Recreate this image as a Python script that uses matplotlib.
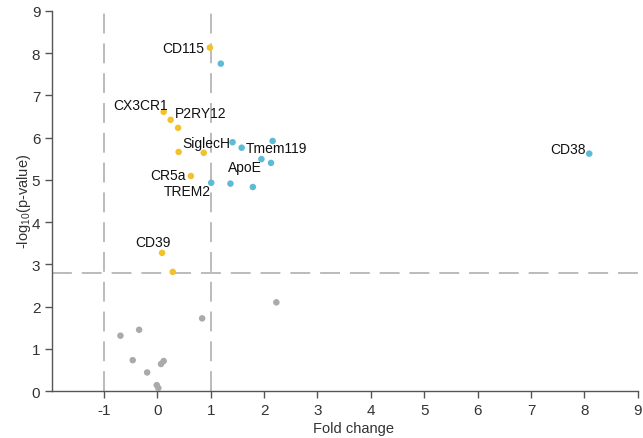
import matplotlib
matplotlib.use("Agg")
import matplotlib.pyplot as plt

plt.rcParams['font.family'] = ['Liberation Sans', 'DejaVu Sans']
plt.rcParams['mathtext.default'] = 'regular'
plt.rcParams['axes.unicode_minus'] = False

# Data
yellow_x = [0.985, 0.12, 0.25, 0.39, 0.40, 0.87, 0.63, 0.09, 0.29]
yellow_y = [8.13, 6.61, 6.42, 6.23, 5.66, 5.64, 5.09, 3.27, 2.82]
blue_x = [1.19, 1.41, 1.58, 2.16, 1.95, 2.13, 1.01, 1.37, 1.79, 8.09]
blue_y = [7.75, 5.89, 5.76, 5.92, 5.49, 5.40, 4.93, 4.91, 4.83, 5.62]
grey_x = [-0.69, -0.34, 0.84, 2.23, -0.46, 0.07, 0.12, -0.19, -0.01, 0.02]
grey_y = [1.31, 1.45, 1.72, 2.10, 0.73, 0.64, 0.71, 0.44, 0.14, 0.07]

labels = ["CD115", "CX3CR1", "P2RY12", "SiglecH", "Tmem119", "ApoE",
          "CR5a", "TREM2", "CD39", "CD38"]
label_x = [0.876, -0.31, 0.33, 0.475, 1.66, 1.33, 0.54, 1.0, -0.08, 8.02]
label_y = [8.13, 6.78, 6.59, 5.87, 5.76, 5.31, 5.12, 4.73, 3.52, 5.73]
label_ha = ["right", "center", "left", "left", "left", "left", "right",
            "right", "center", "right"]

xticks = [-1, 0, 1, 2, 3, 4, 5, 6, 7, 8, 9]
yticks = [0, 1, 2, 3, 4, 5, 6, 7, 8, 9]
fc_thresh = [-1, 1]
p_thresh = 2.8

fig = plt.figure(figsize=(6.43, 4.39), dpi=100)
ax = fig.add_axes([0.081, 0.107, 0.911, 0.866])

dash = (0, (13, 6.5))
for xv in fc_thresh:
    ax.axvline(xv, color='#a8a8a8', lw=1.1, linestyle=dash, zorder=1)
ax.axhline(p_thresh, color='#a8a8a8', lw=1.1, linestyle=dash, zorder=1)

ax.scatter(grey_x, grey_y, s=22, color='#aaaaaa', edgecolors='none', zorder=3)
ax.scatter(yellow_x, yellow_y, s=22, color='#f2c22c', edgecolors='none', zorder=3)
ax.scatter(blue_x, blue_y, s=22, color='#5dbbd5', edgecolors='none', zorder=3)

for t, x, y, ha in zip(labels, label_x, label_y, label_ha):
    ax.text(x, y, t, ha=ha, va='center', fontsize=10, color='#111111', zorder=4)

ax.set_xlim(-1.97, 9)
ax.set_ylim(0, 9)
ax.set_xticks(xticks)
ax.set_yticks(yticks)
for s in ['top', 'right']:
    ax.spines[s].set_visible(False)
for s in ['left', 'bottom']:
    ax.spines[s].set_color('#555555')
    ax.spines[s].set_linewidth(1.0)
ax.tick_params(axis='both', colors='#555555', labelcolor='#333333',
               labelsize=11, length=5, width=1.0)
ax.set_xlabel('Fold change', fontsize=10.5, color='#333333')
ax.xaxis.set_label_coords(0.515, -0.08)
ax.set_ylabel('-log$_{10}$(p-value)', fontsize=10.5, color='#333333', labelpad=-1)

fig.savefig('out.png', dpi=100)
